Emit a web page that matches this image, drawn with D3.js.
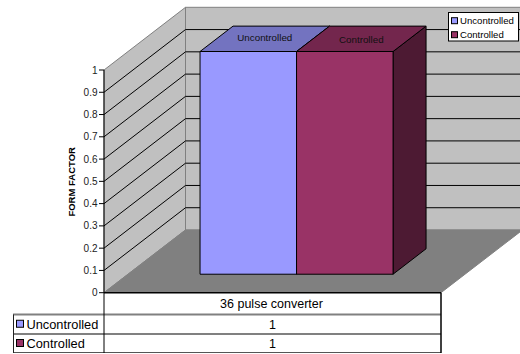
<!DOCTYPE html>
<html>
<head>
<meta charset="utf-8">
<script src="https://cdn.jsdelivr.net/npm/d3@7"></script>
<style>
  html, body { margin: 0; padding: 0; background: #fff; }
  svg { display: block; font-family: "Liberation Sans", Arial, sans-serif; }
</style>
</head>
<body>
<svg id="chart" width="520" height="354"></svg>
<script>
// Chart data
const categories = ["36 pulse converter"];
const seriesNames = ["Uncontrolled", "Controlled"];
const uncontrolled = [1];
const controlled = [1];
const yTicks = [0, 0.1, 0.2, 0.3, 0.4, 0.5, 0.6, 0.7, 0.8, 0.9, 1];
const yTitle = "FORM FACTOR";

const seriesValues = [uncontrolled, controlled];
const seriesFront = ["#9999ff", "#993366"];
const seriesTop = ["#7373c0", "#73264d"];
const seriesSide = ["#5c5c99", "#4d1a33"];

const svg = d3.select("#chart");

// Front plane of the 3-D box and the depth vector
const plotLeft = 104, plotRight = 441;
const yScale = d3.scaleLinear().domain([0, 1]).range([292.7, 70]);
const depthX = 81.5, depthY = -62.7;
const barFrontDepth = 0.295, barBackDepth = 0.70;

const x0 = d3.scaleBand().domain(categories).range([plotLeft, plotRight]);
const x1 = d3.scaleBand().domain(seriesNames).range([0, x0.bandwidth()])
  .paddingInner(0).paddingOuter(0.746);

const pt = (x, y, d) => [x + depthX * d, y + depthY * d];
const poly = pts => pts.map(p => p.join(",")).join(" ");

const yMin = yScale(0), yMax = yScale(1);

// Walls and floor
svg.append("polygon")
  .attr("points", poly([pt(plotLeft, yMax, 1), pt(plotRight, yMax, 1), pt(plotRight, yMin, 1), pt(plotLeft, yMin, 1)]))
  .attr("fill", "#c0c0c0").attr("stroke", "#808080").attr("stroke-width", 1);
svg.append("polygon")
  .attr("points", poly([pt(plotLeft, yMax, 0), pt(plotLeft, yMax, 1), pt(plotLeft, yMin, 1), pt(plotLeft, yMin, 0)]))
  .attr("fill", "#c0c0c0").attr("stroke", "#808080").attr("stroke-width", 1);
svg.append("polygon")
  .attr("points", poly([pt(plotLeft, yMin, 0), pt(plotRight, yMin, 0), pt(plotRight, yMin, 1), pt(plotLeft, yMin, 1)]))
  .attr("fill", "#808080").attr("stroke", "#808080").attr("stroke-width", 1);

// Gridlines on the side and back walls
const gridTicks = yTicks.filter(t => t > 0 && t < 1);
const grid = svg.append("g").attr("stroke", "#000").attr("stroke-width", 1).attr("fill", "none");
gridTicks.forEach(t => {
  const y = yScale(t);
  grid.append("polyline")
    .attr("points", poly([pt(plotLeft, y, 0), pt(plotLeft, y, 1), pt(plotRight, y, 1)]));
});

// Bars (left to right so the right bar covers the hidden side of its neighbour)
seriesNames.forEach((name, si) => {
  categories.forEach((cat, ci) => {
    const v = seriesValues[si][ci];
    const xl = x0(cat) + x1(name), xr = xl + x1.bandwidth();
    const yb = yScale(0), yt = yScale(v);
    const g = svg.append("g").attr("stroke", "#000").attr("stroke-width", 1).attr("stroke-linejoin", "round");
    g.append("polygon")
      .attr("points", poly([pt(xr, yt, barFrontDepth), pt(xr, yt, barBackDepth), pt(xr, yb, barBackDepth), pt(xr, yb, barFrontDepth)]))
      .attr("fill", seriesSide[si]);
    g.append("polygon")
      .attr("points", poly([pt(xl, yt, barFrontDepth), pt(xr, yt, barFrontDepth), pt(xr, yt, barBackDepth), pt(xl, yt, barBackDepth)]))
      .attr("fill", seriesTop[si]);
    g.append("polygon")
      .attr("points", poly([pt(xl, yt, barFrontDepth), pt(xr, yt, barFrontDepth), pt(xr, yb, barFrontDepth), pt(xl, yb, barFrontDepth)]))
      .attr("fill", seriesFront[si]);
    // series name on the top face
    const c = pt((xl + xr) / 2, yt, (barFrontDepth + barBackDepth) / 2);
    svg.append("text")
      .attr("x", c[0]).attr("y", c[1] + 2.5 + si * 1.5)
      .attr("text-anchor", "middle")
      .attr("font-size", 9.8).attr("fill", "#111")
      .text(name);
  });
});

// Value axis on the front-left edge
const axis = svg.append("g");
axis.append("line")
  .attr("x1", plotLeft).attr("x2", plotLeft)
  .attr("y1", yScale(1)).attr("y2", yScale(0))
  .attr("stroke", "#000").attr("stroke-width", 1);
yTicks.forEach(t => {
  axis.append("line")
    .attr("x1", plotLeft - 5).attr("x2", plotLeft)
    .attr("y1", yScale(t)).attr("y2", yScale(t))
    .attr("stroke", "#000").attr("stroke-width", 1);
  axis.append("text")
    .attr("x", plotLeft - 6.5).attr("y", yScale(t) + 3.5)
    .attr("text-anchor", "end").attr("font-size", 10).attr("fill", "#222")
    .text(d3.format("~g")(t));
});
svg.append("text")
  .attr("transform", `translate(74.5,${(yScale(0) + yScale(1)) / 2 + 0.5}) rotate(-90)`)
  .attr("text-anchor", "middle")
  .attr("font-size", 9.5).attr("font-weight", "bold").attr("fill", "#000")
  .text(yTitle);

// Data table below the plot
const tableLeft = 13;
const rowEdges = [yScale(0), 314.5, 334, 353];
const table = svg.append("g");
table.append("rect")
  .attr("x", plotLeft).attr("y", rowEdges[0])
  .attr("width", plotRight - plotLeft).attr("height", rowEdges[1] - rowEdges[0])
  .attr("fill", "#fff");
table.append("rect")
  .attr("x", tableLeft).attr("y", rowEdges[1])
  .attr("width", plotRight - tableLeft).attr("height", rowEdges[3] - rowEdges[1])
  .attr("fill", "#fff");
// row separators
[rowEdges[1], rowEdges[2]].forEach(y => {
  table.append("line")
    .attr("x1", tableLeft).attr("x2", plotRight).attr("y1", y).attr("y2", y)
    .attr("stroke", "#808080").attr("stroke-width", 2);
});
table.append("line")
  .attr("x1", tableLeft).attr("x2", plotRight).attr("y1", rowEdges[3] - 0.5).attr("y2", rowEdges[3] - 0.5)
  .attr("stroke", "#555").attr("stroke-width", 1.2);
table.append("line")
  .attr("x1", tableLeft + 0.5).attr("x2", tableLeft + 0.5).attr("y1", rowEdges[1]).attr("y2", rowEdges[3])
  .attr("stroke", "#222").attr("stroke-width", 1);
table.append("line")
  .attr("x1", plotLeft).attr("x2", plotLeft).attr("y1", rowEdges[0]).attr("y2", rowEdges[3])
  .attr("stroke", "#000").attr("stroke-width", 1);
table.append("line")
  .attr("x1", plotRight).attr("x2", plotRight).attr("y1", rowEdges[0]).attr("y2", rowEdges[3])
  .attr("stroke", "#000").attr("stroke-width", 1.5);
table.append("line")
  .attr("x1", plotLeft).attr("x2", plotRight).attr("y1", rowEdges[0]).attr("y2", rowEdges[0])
  .attr("stroke", "#000").attr("stroke-width", 1.5);

categories.forEach(cat => {
  table.append("text")
    .attr("x", x0(cat) + x0.bandwidth() / 2 - 1).attr("y", (rowEdges[0] + rowEdges[1]) / 2 + 4.5)
    .attr("text-anchor", "middle").attr("font-size", 12.5).attr("fill", "#000")
    .text(cat);
});
seriesNames.forEach((name, si) => {
  const yc = (rowEdges[si + 1] + rowEdges[si + 2]) / 2;
  table.append("rect")
    .attr("x", 16.5).attr("y", yc - 4).attr("width", 7).attr("height", 7)
    .attr("fill", seriesFront[si]).attr("stroke", "#000").attr("stroke-width", 1);
  table.append("text")
    .attr("x", 26.5).attr("y", yc + 4.5)
    .attr("font-size", 12.8).attr("fill", "#000")
    .text(name);
  categories.forEach((cat, ci) => {
    table.append("text")
      .attr("x", x0(cat) + x0.bandwidth() / 2).attr("y", yc + 4.5)
      .attr("text-anchor", "middle").attr("font-size", 12.5).attr("fill", "#000")
      .text(d3.format("~g")(seriesValues[si][ci]));
  });
});

// Legend
const legend = svg.append("g");
legend.append("rect")
  .attr("x", 448.5).attr("y", 12.5).attr("width", 70).attr("height", 28.5)
  .attr("fill", "#fff").attr("stroke", "#000").attr("stroke-width", 1);
seriesNames.forEach((name, si) => {
  const yc = 20.7 + si * 14;
  legend.append("rect")
    .attr("x", 451.5).attr("y", yc - 3).attr("width", 6).attr("height", 6)
    .attr("fill", seriesFront[si]).attr("stroke", "#000").attr("stroke-width", 1);
  legend.append("text")
    .attr("x", 460).attr("y", yc + 3.4)
    .attr("font-size", 9.6).attr("fill", "#000")
    .text(name);
});
</script>
</body>
</html>
